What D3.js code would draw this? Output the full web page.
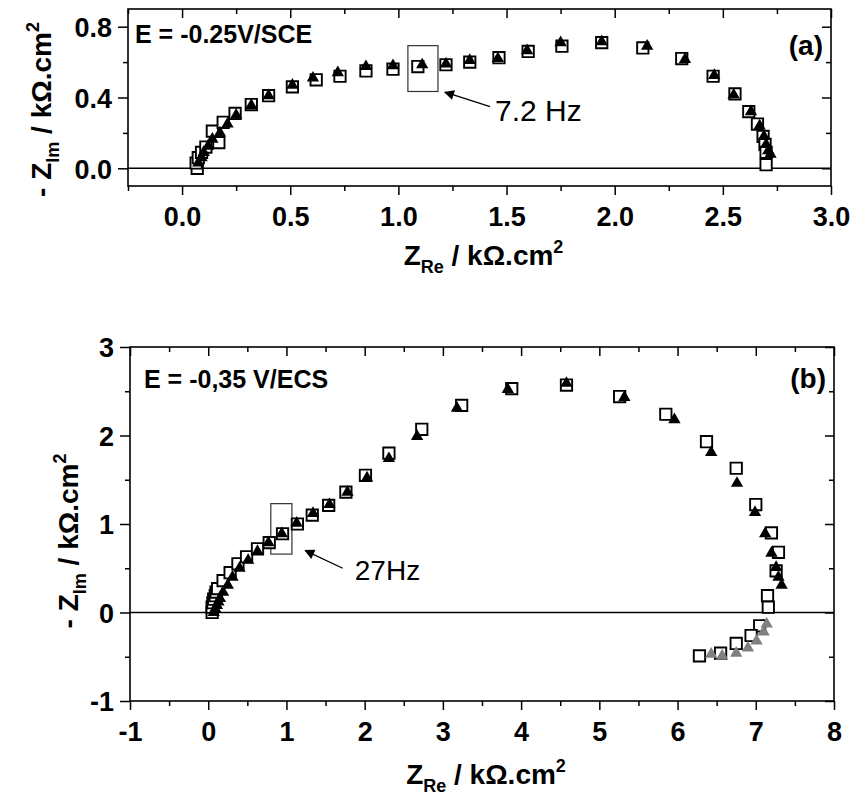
<!DOCTYPE html>
<html><head><meta charset="utf-8">
<script src="https://cdn.jsdelivr.net/npm/d3@7"></script>
<style>body{margin:0;background:#fff}svg{display:block}text{font-family:"Liberation Sans",Arial,Helvetica,sans-serif}</style>
</head><body><svg id="c" width="855" height="797"></svg>
<script>
// ---------- Panel (a) data ----------
const aSqX=[0.07,0.065,0.075,0.09,0.11,0.17,0.14,0.19,0.245,0.32,0.40,0.51,0.62,0.73,0.85,0.975,1.09,1.22,1.33,1.465,1.60,1.756,1.94,2.13,2.31,2.455,2.556,2.62,2.66,2.686,2.695,2.70,2.70];
const aSqY=[0.00,0.03,0.06,0.09,0.12,0.145,0.21,0.26,0.31,0.36,0.41,0.46,0.50,0.52,0.55,0.56,0.575,0.585,0.60,0.625,0.66,0.69,0.71,0.68,0.62,0.52,0.42,0.32,0.25,0.18,0.135,0.09,0.02];
const aTriX=[0.075,0.09,0.10,0.12,0.14,0.175,0.21,0.25,0.32,0.40,0.51,0.605,0.72,0.85,0.975,1.11,1.22,1.33,1.46,1.595,1.75,1.94,2.15,2.325,2.46,2.55,2.63,2.67,2.69,2.70,2.71,2.72];
const aTriY=[0.03,0.06,0.09,0.125,0.165,0.20,0.25,0.30,0.355,0.41,0.47,0.51,0.54,0.575,0.58,0.585,0.59,0.61,0.62,0.665,0.71,0.715,0.69,0.615,0.525,0.415,0.32,0.24,0.18,0.135,0.10,0.08];
const aXTicks=[0,0.5,1,1.5,2,2.5,3], aXLabels=["0.0","0.5","1.0","1.5","2.0","2.5","3.0"];
const aXMinor=[-0.25,0.25,0.75,1.25,1.75,2.25,2.75];
const aYTicks=[0,0.4,0.8], aYLabels=["0.0","0.4","0.8"], aYMinor=[0.2,0.6];

// ---------- Panel (b) data ----------
const bSqX=[0.05,0.05,0.06,0.07,0.09,0.10,0.12,0.19,0.28,0.38,0.49,0.63,0.78,0.95,1.14,1.33,1.54,1.76,2.01,2.31,2.73,3.24,3.88,4.58,5.26,5.85,6.37,6.75,7.0,7.2,7.29,7.26,7.15,7.16,7.05,6.94,6.75,6.55,6.28];
const bSqY=[0.0,0.06,0.11,0.15,0.19,0.23,0.27,0.36,0.45,0.55,0.63,0.72,0.79,0.89,1.0,1.10,1.21,1.36,1.55,1.80,2.07,2.34,2.53,2.57,2.44,2.24,1.93,1.63,1.22,0.90,0.68,0.47,0.19,0.06,-0.15,-0.26,-0.35,-0.46,-0.49];
const bTriX=[0.07,0.09,0.11,0.13,0.15,0.19,0.25,0.31,0.40,0.51,0.63,0.77,0.94,1.13,1.34,1.55,1.78,2.03,2.31,2.67,3.18,3.83,4.58,5.32,5.96,6.43,6.76,6.99,7.12,7.2,7.26,7.29,7.33];
const bTriY=[0.0,0.04,0.08,0.12,0.16,0.23,0.31,0.40,0.50,0.59,0.69,0.79,0.89,1.01,1.12,1.22,1.36,1.52,1.74,1.99,2.31,2.52,2.59,2.43,2.18,1.81,1.46,1.13,0.89,0.67,0.51,0.40,0.31];
const bGreyX=[7.14,7.10,7.01,6.9,6.75,6.57,6.43];
const bGreyY=[-0.13,-0.22,-0.32,-0.40,-0.46,-0.49,-0.47];
const bXTicks=[-1,0,1,2,3,4,5,6,7,8], bXLabels=["-1","0","1","2","3","4","5","6","7","8"];
const bXMinor=[-0.5,0.5,1.5,2.5,3.5,4.5,5.5,6.5,7.5];
const bYTicks=[-1,0,1,2,3], bYLabels=["-1","0","1","2","3"], bYMinor=[-0.5,0.5,1.5,2.5];

const svg=d3.select("#c");
svg.append("defs").append("marker").attr("id","ah").attr("viewBox","0 0 10 10")
  .attr("refX",9).attr("refY",5).attr("markerWidth",14).attr("markerHeight",10)
  .attr("markerUnits","userSpaceOnUse").attr("orient","auto")
  .append("path").attr("d","M0,0 L10,5 L0,10 z").attr("fill","#000");

function panel(o){
  const g=svg.append("g");
  const x=d3.scaleLinear().domain(o.xd).range([o.l,o.r]);
  const y=d3.scaleLinear().domain(o.yd).range([o.b,o.t]);
  g.append("line").attr("x1",o.l).attr("x2",o.r).attr("y1",y(0)).attr("y2",y(0))
    .attr("stroke","#000").attr("stroke-width",1.6);
  const ax=(gen,tr,vals,size,fmt)=>{
    const a=g.append("g").attr("transform",tr)
      .call(gen.tickValues(vals).tickSize(size).tickSizeOuter(0).tickFormat(fmt));
    a.select(".domain").remove();
    a.selectAll("line").attr("stroke","#000").attr("stroke-width",1.5);
    a.selectAll("text").attr("fill","#000").style("font-size","27px").style("font-weight","bold");
    return a;
  };
  const lab=(arr,vals)=>d=>arr[vals.indexOf(d)];
  const bx=ax(d3.axisBottom(x),`translate(0,${o.b})`,o.xt,9,lab(o.xl,o.xt));
  bx.selectAll("text").attr("y",21).attr("dy","0.71em");
  ax(d3.axisBottom(x),`translate(0,${o.b})`,o.xm,5,"");
  ax(d3.axisTop(x),`translate(0,${o.t})`,o.xt,-9,"");
  ax(d3.axisTop(x),`translate(0,${o.t})`,o.xm,-5,"");
  const ly=ax(d3.axisLeft(y),`translate(${o.l},0)`,o.yt,10,lab(o.yl,o.yt));
  ly.selectAll("text").attr("x",-16).attr("dy","0.36em");
  ax(d3.axisLeft(y),`translate(${o.l},0)`,o.ym,5,"");
  ax(d3.axisRight(y),`translate(${o.r},0)`,o.yt,-9,"");
  ax(d3.axisRight(y),`translate(${o.r},0)`,o.ym,-5,"");
  g.append("rect").attr("x",o.l).attr("y",o.t).attr("width",o.r-o.l).attr("height",o.b-o.t)
    .attr("fill","none").attr("stroke","#000").attr("stroke-width",1.6);
  g.append("rect").attr("x",x(o.box[0])).attr("y",y(o.box[3]))
    .attr("width",x(o.box[1])-x(o.box[0])).attr("height",y(o.box[2])-y(o.box[3]))
    .attr("fill","none").attr("stroke","#333").attr("stroke-width",1.2);
  g.append("line").attr("x1",x(o.arr[0])).attr("y1",y(o.arr[1])).attr("x2",x(o.arr[2])).attr("y2",y(o.arr[3]))
    .attr("stroke","#000").attr("stroke-width",1.3).attr("marker-end","url(#ah)");
  g.append("text").attr("x",x(o.freq[0])).attr("y",y(o.freq[1])).text(o.freq[2])
    .style("font-size",o.freqSize+"px").attr("fill","#000");
  const sq=d3.symbol(d3.symbolSquare,128)(), tri=d3.symbol(d3.symbolTriangle,66)();
  g.append("g").selectAll("path").data(d3.range(o.sx.length)).join("path")
    .attr("d",sq).attr("transform",i=>`translate(${x(o.sx[i])},${y(o.sy[i])})`)
    .attr("fill","#fff").attr("stroke","#000").attr("stroke-width",1.9);
  g.append("g").selectAll("path").data(d3.range(o.tx.length)).join("path")
    .attr("d",tri).attr("transform",i=>`translate(${x(o.tx[i])},${y(o.ty[i])})`)
    .attr("fill","#000");
  if(o.gx){
    g.append("g").selectAll("path").data(d3.range(o.gx.length)).join("path")
      .attr("d",tri).attr("transform",i=>`translate(${x(o.gx[i])},${y(o.gy[i])})`)
      .attr("fill","#808080");
  }
  g.append("text").attr("x",o.l+o.eDx).attr("y",o.t+o.eDy).text(o.eText)
    .style("font-size","25px").style("font-weight","bold");
  g.append("text").attr("x",o.r-8).attr("y",o.t+o.pDy).attr("text-anchor","end").text(o.pText)
    .style("font-size","28px").style("font-weight","bold");
  const xt=g.append("text").attr("x",(o.l+o.r)/2+4).attr("y",o.b+o.xtDy).attr("text-anchor","middle")
    .style("font-weight","bold").style("font-size","28px");
  xt.append("tspan").text("Z");
  xt.append("tspan").text("Re").style("font-size","18px").attr("dy",8);
  xt.append("tspan").text(" / kΩ.cm").attr("dy",-8);
  xt.append("tspan").text("2").style("font-size","18px").attr("dy",-12);
  const yt=g.append("text").attr("transform",`translate(${o.ytX},${(o.t+o.b)/2+o.ytDy}) rotate(-90)`)
    .attr("text-anchor","middle").style("font-weight","bold").style("font-size","28px");
  yt.append("tspan").text("- Z");
  yt.append("tspan").text("Im").style("font-size","18px").attr("dy",8);
  yt.append("tspan").text(" / kΩ.cm").attr("dy",-8);
  yt.append("tspan").text("2").style("font-size","18px").attr("dy",-12);
}

panel({l:128,r:831,t:9,b:186,xd:[-0.25,3.0],yd:[-0.1,0.9],
  xt:aXTicks,xl:aXLabels,xm:aXMinor,yt:aYTicks,yl:aYLabels,ym:aYMinor,
  sx:aSqX,sy:aSqY,tx:aTriX,ty:aTriY,
  box:[1.044,1.183,0.434,0.693],arr:[1.424,0.349,1.215,0.43],freq:[1.447,0.265,"7.2 Hz"],freqSize:30,
  eText:"E = -0.25V/SCE",eDx:7,eDy:34,pText:"(a)",pDy:46,xtDy:79,ytX:51,ytDy:12});

panel({l:130,r:834,t:347,b:701,xd:[-1,8],yd:[-1,3],
  xt:bXTicks,xl:bXLabels,xm:bXMinor,yt:bYTicks,yl:bYLabels,ym:bYMinor,
  sx:bSqX,sy:bSqY,tx:bTriX,ty:bTriY,gx:bGreyX,gy:bGreyY,
  box:[0.80,1.07,0.66,1.23],arr:[1.72,0.50,1.24,0.70],freq:[1.874,0.362,"27Hz"],freqSize:28,
  eText:"E = -0,35 V/ECS",eDx:14,eDy:41,pText:"(b)",pDy:41,xtDy:83,ytX:78,ytDy:17});
</script></body></html>
